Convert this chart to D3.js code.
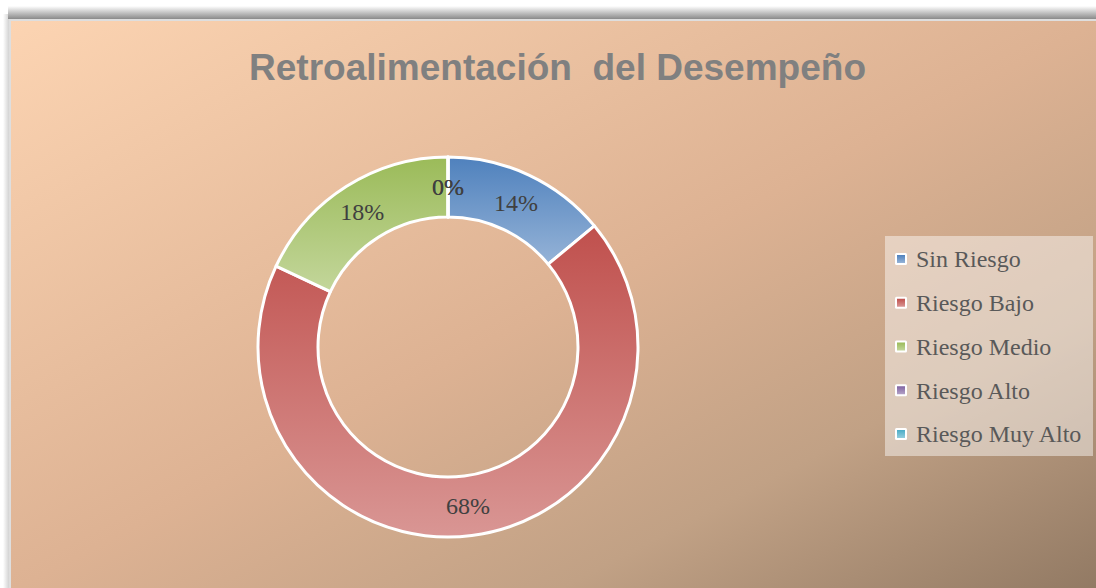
<!DOCTYPE html>
<html><head><meta charset="utf-8">
<script src="https://cdn.jsdelivr.net/npm/d3@7"></script>
<style>html,body{margin:0;padding:0;background:#fff;overflow:hidden}</style>
</head><body>
<svg id="chart" width="1096" height="588"></svg>
<script>
const categories = ["Sin Riesgo", "Riesgo Bajo", "Riesgo Medio", "Riesgo Alto", "Riesgo Muy Alto"];
const values = [7, 34, 9, 0, 0];
const colorsTop = ["#4F81BD", "#C0504D", "#9BBB59", "#8064A2", "#4BACC6"];
const colorsBottom = ["#95B3D7", "#D99694", "#C3D69B", "#B3A2C7", "#93CDDD"];
const titleText = "Retroalimentación  del Desempeño";

const svg = d3.select("#chart");
const defs = svg.append("defs");

const bg = defs.append("linearGradient").attr("id","bg").attr("x1",0).attr("y1",0).attr("x2",1).attr("y2",1);
[[0,"#FCD4B2"],[0.5,"#DDB293"],[0.75,"#C1A185"],[1,"#917963"]].forEach(([o,c])=>bg.append("stop").attr("offset",o).attr("stop-color",c));

const shTop = defs.append("linearGradient").attr("id","shTop").attr("x1",0).attr("y1",0).attr("x2",0).attr("y2",1);
shTop.append("stop").attr("offset",0).attr("stop-color","#fff");
shTop.append("stop").attr("offset",1).attr("stop-color","#8a8a8a");
const shLeft = defs.append("linearGradient").attr("id","shLeft").attr("x1",0).attr("y1",0).attr("x2",1).attr("y2",0);
shLeft.append("stop").attr("offset",0).attr("stop-color","#fff");
shLeft.append("stop").attr("offset",1).attr("stop-color","#c4c4c4");

colorsTop.forEach((c,i)=>{
  const g = defs.append("linearGradient").attr("id","sg"+i).attr("x1",0).attr("y1",0).attr("x2",0).attr("y2",1);
  g.append("stop").attr("offset",0).attr("stop-color",c);
  g.append("stop").attr("offset",1).attr("stop-color",colorsBottom[i]);
});

// chart area frame + shadow
svg.append("rect").attr("x",3).attr("y",14).attr("width",8).attr("height",580).attr("fill","url(#shLeft)");
svg.append("rect").attr("x",8).attr("y",6).attr("width",1100).attr("height",13).attr("fill","url(#shTop)");
svg.append("rect").attr("x",9).attr("y",19).attr("width",1100).attr("height",580).attr("fill","#dedede");
svg.append("rect").attr("x",11).attr("y",21).attr("width",1090).attr("height",570).attr("fill","url(#bg)");

// title
const title = svg.append("text").attr("x",557.5).attr("y",80).attr("text-anchor","middle")
  .style("font-family","Liberation Sans, Arial, sans-serif").style("font-weight","bold")
  .style("font-size","36px").attr("fill","#808080").style("white-space","pre").text(titleText);
title.attr("textLength",617).attr("lengthAdjust","spacingAndGlyphs");

// donut
const cx = 448, cy = 347, rOuter = 190, rInner = 130;
const pie = d3.pie().sort(null).value(d=>d)(values);
const arc = d3.arc().innerRadius(rInner).outerRadius(rOuter);
const labelArc = d3.arc().innerRadius(160).outerRadius(160);
const g = svg.append("g").attr("transform",`translate(${cx},${cy})`);
g.selectAll("path.slice").data(pie).enter().append("path").attr("class","slice")
  .attr("d",arc).attr("fill",(d,i)=>`url(#sg${i})`).attr("stroke","#fff").attr("stroke-width",3).attr("stroke-linejoin","round");
const total = d3.sum(values);
g.selectAll("text.lbl").data(pie).enter().append("text").attr("class","lbl")
  .attr("transform",d=>`translate(${labelArc.centroid(d)})`).attr("text-anchor","middle").attr("dy","0.35em")
  .style("font-family","Liberation Serif, serif").style("font-size","24px").attr("fill","#404040")
  .text(d=>d3.format(".0%")(d.value/total));

// legend
const lg = svg.append("g");
lg.append("rect").attr("x",885).attr("y",236).attr("width",208).attr("height",220).attr("fill","rgba(255,255,255,0.45)");
const yScale = d3.scalePoint().domain(categories).range([259,434]);
const items = lg.selectAll("g.item").data(categories).enter().append("g").attr("class","item")
  .attr("transform",d=>`translate(0,${yScale(d)})`);
items.append("rect").attr("x",895).attr("y",-6).attr("width",12).attr("height",12).attr("fill","#fff").attr("rx",1.5);
items.append("rect").attr("x",897).attr("y",-4).attr("width",8).attr("height",8).attr("fill",(d,i)=>`url(#sg${i})`);
items.append("text").attr("x",916).attr("y",0).attr("dy","0.35em")
  .style("font-family","Liberation Serif, serif").style("font-size","24px").attr("fill","#595959").text(d=>d);
</script>
</body></html>
